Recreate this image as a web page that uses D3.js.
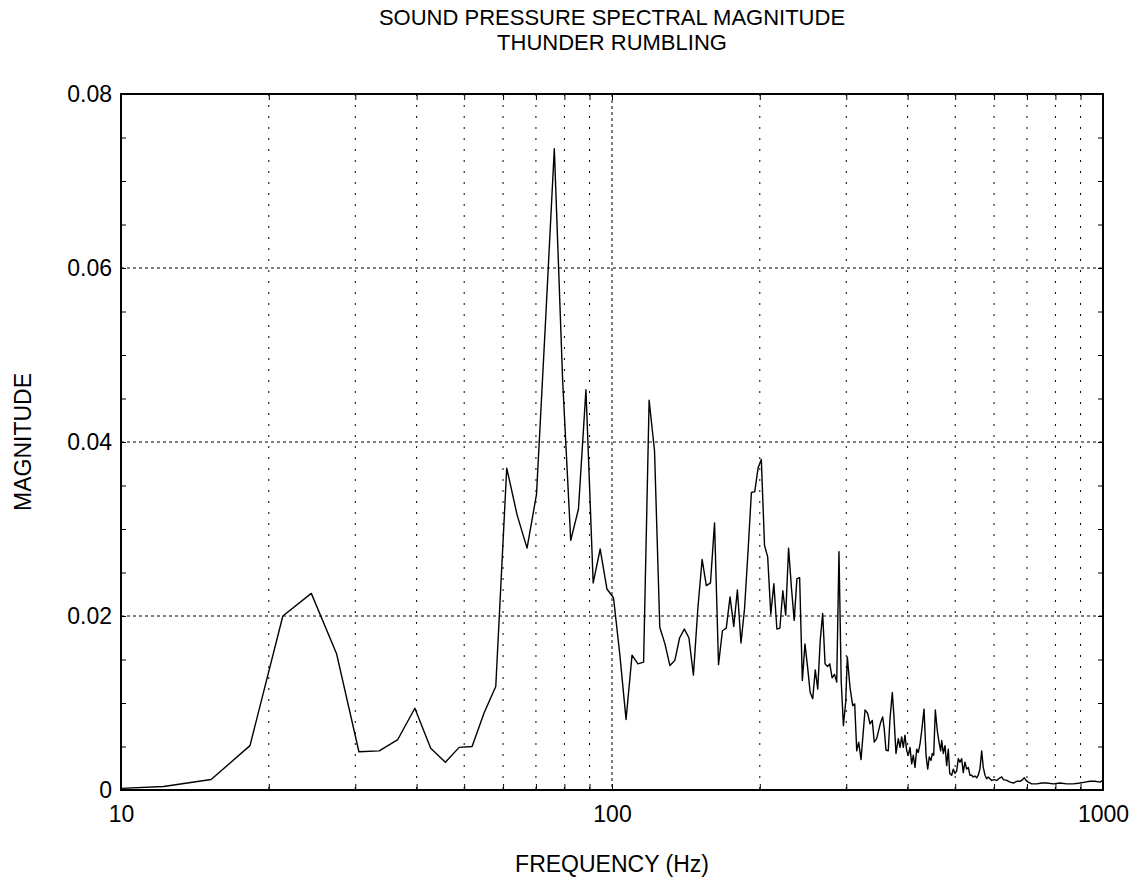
<!DOCTYPE html>
<html>
<head>
<meta charset="utf-8">
<script src="https://cdn.jsdelivr.net/npm/d3@7"></script>
<style>
  body { margin: 0; background: #fff; }
  svg { font-family: "Liberation Sans", Arial, sans-serif; }
</style>
</head>
<body>
<div id="chart"></div>
<script>
const titleLines = ['SOUND PRESSURE SPECTRAL MAGNITUDE', 'THUNDER RUMBLING']
const xLabel = 'FREQUENCY (Hz)'
const yLabel = 'MAGNITUDE'

const xMajorTicks = [10, 100, 1000]
const xMinorTicks = [20, 30, 40, 50, 60, 70, 80, 90, 200, 300, 400, 500, 600, 700, 800, 900]
const yTicks = [0, 0.02, 0.04, 0.06, 0.08]
const yMinorTicks = [0.005, 0.01, 0.015, 0.025, 0.03, 0.035, 0.045, 0.05, 0.055, 0.065, 0.07, 0.075]

const freqHz = [
  9.16, 12.21, 15.26, 18.31, 21.36, 24.41, 27.47, 30.52, 33.57, 36.62,
  39.67, 42.73, 45.78, 48.83, 51.88, 54.93, 57.98, 61.04, 64.09, 67.14,
  70.19, 73.24, 76.30, 79.35, 82.40, 85.45, 88.50, 91.55, 94.61, 97.66,
  100.71, 103.76, 106.81, 109.86, 112.92, 115.97, 119.02, 122.07, 125.12, 128.18,
  131.23, 134.28, 137.33, 140.38, 143.43, 146.49, 149.54, 152.59, 155.64, 158.69,
  161.75, 164.80, 167.85, 170.90, 173.95, 177.00, 180.06, 183.11, 186.16, 189.21,
  192.26, 195.32, 198.37, 201.42, 204.47, 207.52, 210.57, 213.63, 216.68, 219.73,
  222.78, 225.83, 228.89, 231.94, 234.99, 238.04, 241.09, 244.14, 247.20, 250.25,
  253.30, 256.35, 259.40, 262.45, 265.51, 268.56, 271.61, 274.66, 277.71, 280.77,
  283.82, 286.87, 289.92, 292.97,
  296.0, 299.2, 301.5, 305.3, 309.2, 312.1, 315.1, 318.0, 321.5, 325.0,
  327.6, 331.7, 335.3, 338.9, 342.1, 346.0, 349.7, 352.6, 355.8, 358.5,
  361.4, 365.3, 368.3, 372.3, 375.2, 378.8, 382.9, 386.0, 389.0, 392.0,
  395.1, 398.3, 401.3, 404.5, 407.7, 410.8, 414.1, 417.4, 420.5, 424.0,
  427.3, 432.0, 436.1, 439.5, 442.8, 446.4, 449.1, 452.1, 455.5, 459.8,
  463.5, 467.1, 469.3, 472.9, 476.7, 480.4, 484.1, 487.3, 491.8, 495.5,
  499.5, 503.5, 507.3, 511.4, 515.4, 519.3, 523.4, 527.6, 531.6, 535.8,
  540.1, 544.1, 548.5, 552.9, 557.0, 561.5, 566.2, 570.3, 575.0, 579.5,
  583.9, 588.6, 593.3, 599.8, 607.5, 617.0, 622.0, 626.7, 636.8, 646.7,
  656.8, 667.4, 677.8, 686.3, 691.5, 697.0, 704.6, 715.9, 732.8, 750.2,
  768.0, 792.2, 817.5, 843.6, 870.1, 897.9, 919.0, 940.8, 963.1, 986.0, 998.6
]

const magnitude = [
  0.0001, 0.0004, 0.0012, 0.0051, 0.0200, 0.0226, 0.0157, 0.0044, 0.0045, 0.0058,
  0.0094, 0.0048, 0.0032, 0.0049, 0.0050, 0.0089, 0.0119, 0.0370, 0.0316, 0.0278,
  0.0340, 0.0540, 0.0737, 0.0470, 0.0287, 0.0323, 0.0460, 0.0238, 0.0277, 0.0231,
  0.0221, 0.0155, 0.0081, 0.0155, 0.0145, 0.0147, 0.0448, 0.0390, 0.0187, 0.0168,
  0.0143, 0.0149, 0.0175, 0.0185, 0.0175, 0.0132, 0.0208, 0.0265, 0.0235, 0.0238,
  0.0307, 0.0144, 0.0183, 0.0186, 0.0222, 0.0188, 0.0230, 0.0169, 0.0208, 0.0273,
  0.0342, 0.0343, 0.0370, 0.0380, 0.0281, 0.0268, 0.0202, 0.0237, 0.0185, 0.0186,
  0.0229, 0.0201, 0.0278, 0.0233, 0.0195, 0.0243, 0.0244, 0.0126, 0.0168, 0.0141,
  0.0112, 0.0105, 0.0138, 0.0116, 0.0172, 0.0203, 0.0145, 0.0142, 0.0145, 0.0129,
  0.0133, 0.0124, 0.0274, 0.0125,
  0.0074, 0.0101, 0.0153, 0.0118, 0.0097, 0.0099, 0.0045, 0.0055, 0.0035, 0.0068,
  0.0092, 0.0088, 0.0076, 0.0080, 0.0055, 0.0059, 0.0070, 0.0078, 0.0084, 0.0070,
  0.0046, 0.0045, 0.0082, 0.0112, 0.0084, 0.0042, 0.0059, 0.0049, 0.0061, 0.0049,
  0.0063, 0.0045, 0.0040, 0.0049, 0.0030, 0.0040, 0.0026, 0.0047, 0.0043, 0.0053,
  0.0068, 0.0093, 0.0040, 0.0024, 0.0038, 0.0034, 0.0042, 0.0040, 0.0092, 0.0068,
  0.0055, 0.0045, 0.0057, 0.0042, 0.0051, 0.0028, 0.0047, 0.0019, 0.0017, 0.0024,
  0.0019, 0.0022, 0.0036, 0.0032, 0.0036, 0.0020, 0.0032, 0.0024, 0.0026, 0.0017,
  0.0017, 0.0015, 0.0016, 0.0014, 0.0017, 0.0024, 0.0045, 0.0026, 0.0017, 0.0013,
  0.0015, 0.0013, 0.0011, 0.0012, 0.0011, 0.0014, 0.0015, 0.0012, 0.0011, 0.0009,
  0.0008, 0.0010, 0.0010, 0.0012, 0.0014, 0.0011, 0.0009, 0.0007, 0.0007, 0.0008,
  0.0008, 0.0007, 0.0008, 0.0007, 0.0007, 0.0008, 0.0009, 0.0010, 0.0010, 0.0009, 0.0011
]

const W = 1137, H = 878
const margin = { top: 94, right: 34, bottom: 88, left: 121 }
const width = W - margin.left - margin.right
const height = H - margin.top - margin.bottom

const svg = d3.select('#chart').append('svg')
  .attr('width', W)
  .attr('height', H)

const g = svg.append('g')
  .attr('transform', `translate(${margin.left},${margin.top})`)

const x = d3.scaleLog().domain([10, 1000]).range([0, width])
const y = d3.scaleLinear().domain([0, 0.08]).range([height, 0])

// grid
g.append('g')
  .selectAll('line')
  .data(xMinorTicks.concat([100]))
  .join('line')
    .attr('x1', d => x(d)).attr('x2', d => x(d))
    .attr('y1', 0).attr('y2', height)
    .attr('stroke', '#000')
    .attr('stroke-width', 1)
    .attr('stroke-dasharray', d => d === 100 ? '3,3' : '2,9')

g.append('g')
  .selectAll('line')
  .data(yTicks.slice(1, -1))
  .join('line')
    .attr('x1', 0).attr('x2', width)
    .attr('y1', d => y(d)).attr('y2', d => y(d))
    .attr('stroke', '#000')
    .attr('stroke-width', 1)
    .attr('stroke-dasharray', '3,3')

// inward tick marks on all four sides
const tickAxes = [
  [d3.axisBottom(x).tickValues(xMajorTicks.concat(xMinorTicks)), `translate(0,${height})`, -6],
  [d3.axisTop(x).tickValues(xMajorTicks.concat(xMinorTicks)), 'translate(0,0)', -6],
  [d3.axisLeft(y).tickValues(yTicks.concat(yMinorTicks)), 'translate(0,0)', -5],
  [d3.axisRight(y).tickValues(yTicks.concat(yMinorTicks)), `translate(${width},0)`, -5]
]
for (const [axis, tr, size] of tickAxes) {
  const a = g.append('g')
    .attr('transform', tr)
    .call(axis.tickSize(size).tickFormat(''))
  a.select('.domain').remove()
  a.selectAll('line').attr('stroke-width', 1)
}

// labelled axes
const xAxis = g.append('g')
  .attr('transform', `translate(0,${height})`)
  .call(d3.axisBottom(x).tickValues(xMajorTicks).tickSize(0).tickPadding(16).tickFormat(d3.format('d')))
xAxis.select('.domain').remove()
xAxis.selectAll('text').attr('font-size', 23).attr('fill', '#000')

const yAxis = g.append('g')
  .call(d3.axisLeft(y).tickValues(yTicks).tickSize(0).tickPadding(9).tickFormat(d => d === 0 ? '0' : d3.format('.2f')(d)))
yAxis.select('.domain').remove()
yAxis.selectAll('text').attr('font-size', 23).attr('fill', '#000')

// data line
svg.append('clipPath')
  .attr('id', 'plot-clip')
  .append('rect')
    .attr('width', width)
    .attr('height', height)

const line = d3.line()
  .x(d => x(d.f))
  .y(d => y(d.v))

g.append('path')
  .datum(freqHz.map((f, i) => ({ f, v: magnitude[i] })))
  .attr('clip-path', 'url(#plot-clip)')
  .attr('fill', 'none')
  .attr('stroke', '#000')
  .attr('stroke-width', 1.4)
  .attr('stroke-linejoin', 'round')
  .attr('d', line)

// frame
g.append('rect')
  .attr('width', width)
  .attr('height', height)
  .attr('fill', 'none')
  .attr('stroke', '#000')
  .attr('stroke-width', 2)

// titles
svg.append('g')
  .selectAll('text')
  .data(titleLines)
  .join('text')
    .attr('x', margin.left + width / 2)
    .attr('y', (d, i) => 25 + i * 25)
    .attr('text-anchor', 'middle')
    .attr('font-size', 22)
    .text(d => d)

svg.append('text')
  .attr('x', margin.left + width / 2)
  .attr('y', 872)
  .attr('text-anchor', 'middle')
  .attr('font-size', 23)
  .text(xLabel)

svg.append('text')
  .attr('transform', `translate(31,${margin.top + height / 2}) rotate(-90)`)
  .attr('text-anchor', 'middle')
  .attr('font-size', 23)
  .text(yLabel)
</script>
</body>
</html>
